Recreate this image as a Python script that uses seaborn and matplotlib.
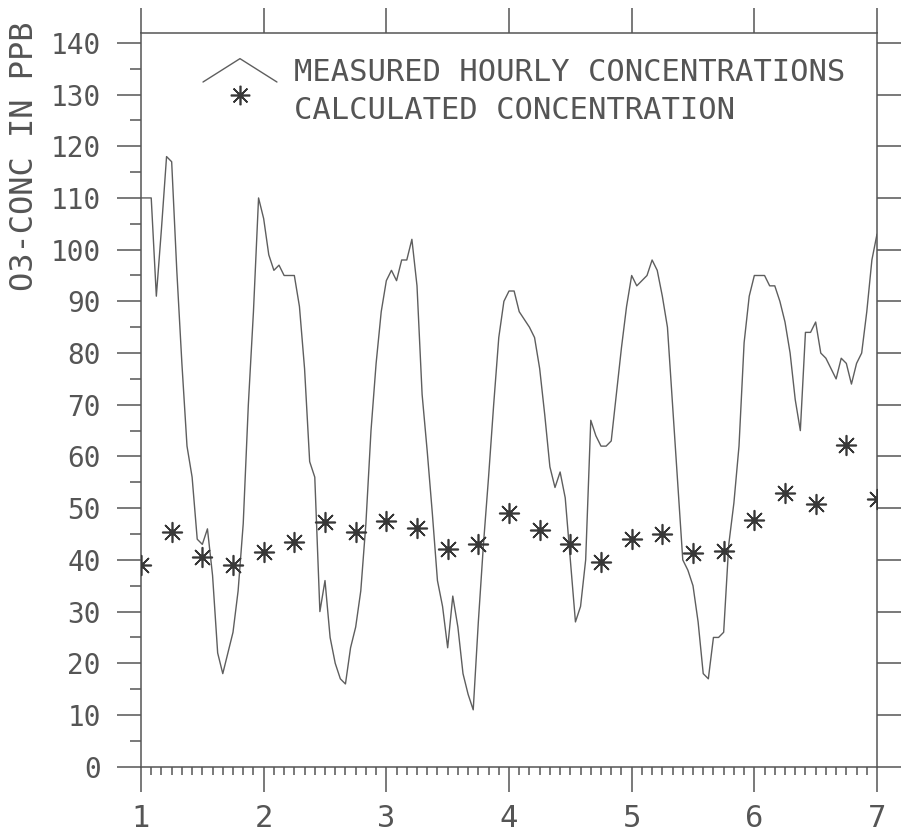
import numpy as np
import pandas as pd
import matplotlib
matplotlib.use("Agg")
import matplotlib.pyplot as plt
import seaborn as sns
from matplotlib.lines import Line2D
from matplotlib.legend_handler import HandlerBase
from matplotlib.ticker import MultipleLocator, FixedLocator

# ---------------- data ----------------
measured_hours = list(range(145))
measured_ppb = [
    110, 110, 110, 91, 104, 118, 117, 96, 78, 62, 56, 44, 43, 46, 37, 22, 18, 22, 26, 34, 47, 70, 88, 110,
    106, 99, 96, 97, 95, 95, 95, 89, 77, 59, 56, 30, 36, 25, 20, 17, 16, 23, 27, 34, 47, 65, 78, 88,
    94, 96, 94, 98, 98, 102, 93, 72, 61, 49, 36, 31, 23, 33, 27, 18, 14, 11, 28, 43, 56, 70, 83, 90,
    92, 92, 88, 86.5, 85, 83, 77, 68, 58, 54, 57, 52, 40, 28, 31, 40, 67, 64, 62, 62, 63, 72, 81, 89,
    95, 93, 94, 95, 98, 96, 91, 85, 70, 55, 40, 38, 35, 28, 18, 17, 25, 25, 26, 43, 51, 62, 82, 91,
    95, 95, 95, 93, 93, 90, 86, 80, 71, 65, 84, 84, 86, 80, 79, 77, 75, 79, 78, 74, 78, 80, 88, 98,
    103,
]
calc_hours = list(range(0, 145, 6))
calc_ppb = [39.1, 45.3, 40.6, 39.0, 41.6, 43.4, 47.3, 45.3, 47.5, 46.2, 42.1, 43.1, 49.0,
            45.8, 43.1, 39.6, 44.0, 45.1, 41.3, 41.8, 47.7, 52.9, 50.8, 62.2, 51.8]
day_ticks = [1, 2, 3, 4, 5, 6, 7]
ppb_ticks = list(range(0, 141, 10))
legend_labels = ["MEASURED HOURLY CONCENTRATIONS", "CALCULATED CONCENTRATION"]
y_label = "O3-CONC IN PPB"

df_meas = pd.DataFrame({"day": 1 + np.array(measured_hours) / 24.0, "ppb": measured_ppb})
df_calc = pd.DataFrame({"day": 1 + np.array(calc_hours) / 24.0, "ppb": calc_ppb})

# ---------------- style ----------------
sns.set_style("ticks")
FONT = ["DejaVu Sans Mono", "DejaVu Sans"]
plt.rcParams["font.family"] = FONT
INK = "#555555"
LINE = "#5e5e5e"
STAR = "#383838"
plt.rcParams["text.color"] = INK
plt.rcParams["xtick.color"] = INK
plt.rcParams["ytick.color"] = INK

W, H = 901, 838
fig = plt.figure(figsize=(W / 100, H / 100), dpi=100)
ax_l, ax_r, ax_t, ax_b = 141, 877, 33, 766.7
ax = fig.add_axes([ax_l / W, 1 - ax_b / H, (ax_r - ax_l) / W, (ax_b - ax_t) / H])

sns.lineplot(data=df_meas, x="day", y="ppb", ax=ax, color=LINE, linewidth=1.0,
             legend=False, estimator=None, sort=False)
sns.scatterplot(data=df_calc, x="day", y="ppb", ax=ax, marker=(8, 2, 0), s=200,
                color=STAR, linewidth=1.2, legend=False, zorder=5)
sns.scatterplot(data=df_calc, x="day", y="ppb", ax=ax, marker="o", s=22,
                color=STAR, linewidth=0, legend=False, zorder=6)

ax.set_xlim(1, 7)
ax.set_ylim(0, 141.9)
ax.set_xlabel("")
ax.set_ylabel("")

for s in ax.spines.values():
    s.set_visible(True)
    s.set_color("#555555")
    s.set_linewidth(1.1)

ax.xaxis.set_major_locator(FixedLocator(day_ticks))
ax.xaxis.set_minor_locator(MultipleLocator(1 / 12))
ax.yaxis.set_major_locator(FixedLocator(ppb_ticks))
ax.yaxis.set_minor_locator(MultipleLocator(5))
ax.set_xticklabels([str(d) for d in day_ticks])
ax.set_yticklabels([str(v) for v in ppb_ticks])

ax.tick_params(axis="both", which="both", direction="out", color="#555555", width=1.1)
ax.tick_params(axis="x", which="major", length=18, pad=9, labelsize=22,
               top=True, bottom=True, labeltop=False)
ax.tick_params(axis="x", which="minor", length=6, top=False, bottom=True)
ax.tick_params(axis="y", which="major", length=17, pad=12, labelsize=20,
               left=True, right=True, labelright=False)
ax.tick_params(axis="y", which="minor", length=8, left=True, right=False)

fig.text(25 / W, 1 - 156 / H, y_label, rotation=90, ha="center", va="center",
         fontsize=23, color=INK)


# ---------------- legend ----------------
class CaretHandler(HandlerBase):
    def create_artists(self, legend, orig_handle, xdescent, ydescent, width, height,
                       fontsize, trans):
        x0, y0 = -xdescent, -ydescent
        ln = Line2D([x0, x0 + width / 2, x0 + width], [y0, y0 + height, y0],
                    color=LINE, lw=1.0)
        ln.set_transform(trans)
        return [ln]


class StarHandler(HandlerBase):
    def __init__(self, dy):
        super().__init__()
        self.dy = dy

    def create_artists(self, legend, orig_handle, xdescent, ydescent, width, height,
                       fontsize, trans):
        cx = -xdescent + width / 2
        cy = -ydescent + height / 2 + self.dy
        star = Line2D([cx], [cy], marker=(8, 2, 0), markersize=14, mew=1.2,
                      color=STAR, ls="none")
        dot = Line2D([cx], [cy], marker="o", markersize=4.5, mew=0, color=STAR, ls="none")
        star.set_transform(trans)
        dot.set_transform(trans)
        return [star, dot]


h_meas = Line2D([], [], color=LINE)
h_calc = Line2D([], [], color=STAR, marker=(8, 2, 0), ls="none")
leg = ax.legend([h_meas, h_calc], legend_labels,
                handler_map={h_meas: CaretHandler(), h_calc: StarHandler(9.5)},
                loc="upper left", bbox_to_anchor=((203 - ax_l) / (ax_r - ax_l), 0.966),
                frameon=False, borderpad=0, borderaxespad=0,
                handlelength=2.42, handleheight=0.8, handletextpad=0.55,
                labelspacing=0.28, prop={"family": FONT, "size": 22})
for t in leg.get_texts():
    t.set_color(INK)

fig.savefig("out.png", dpi=100, facecolor="white")
